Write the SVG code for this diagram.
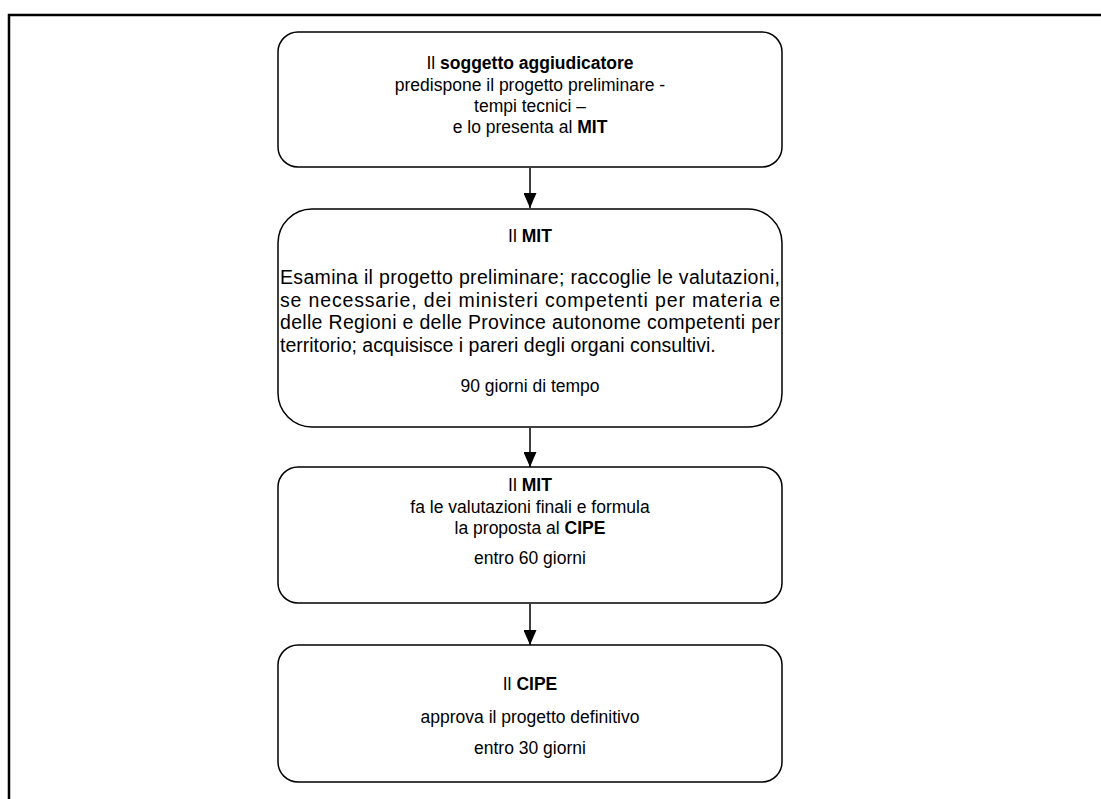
<svg xmlns="http://www.w3.org/2000/svg" width="1101" height="799" viewBox="0 0 1101 799">
<style>
text{font-family:"Liberation Sans",Arial,sans-serif;font-size:17.5px;fill:#000}
.c{text-anchor:middle}
.b{font-weight:bold}
.p{font-size:19.5px}
.box{fill:#fff;stroke:#000;stroke-width:1.5}
.conn{stroke:#000;stroke-width:1.5;fill:none}
</style>
<defs>
<marker id="ah" markerWidth="15" markerHeight="13" refX="15" refY="6.5" orient="auto" markerUnits="userSpaceOnUse" viewBox="0 0 15 13">
<path d="M0,0 L15,6.5 L0,13 Z" fill="#000"/>
</marker>
</defs>
<rect width="1101" height="799" fill="#fff"/>
<g id="frame"><path d="M9,799 L9,15 L1101,15" fill="none" stroke="#000" stroke-width="2.5"/></g>
<g id="connectors">
<line class="conn" x1="530" y1="168" x2="530" y2="208" marker-end="url(#ah)"/>
<line class="conn" x1="530" y1="428" x2="530" y2="467" marker-end="url(#ah)"/>
<line class="conn" x1="530" y1="604" x2="530" y2="645" marker-end="url(#ah)"/>
</g>
<g id="node1">
<rect class="box" x="278" y="32" width="504" height="135" rx="20" ry="20"/>
<text class="c" x="530" y="69">Il <tspan class="b">soggetto aggiudicatore</tspan></text>
<text class="c" x="530" y="91">predispone il progetto preliminare -</text>
<text class="c" x="530" y="112">tempi tecnici –</text>
<text class="c" x="530" y="133">e lo presenta al <tspan class="b">MIT</tspan></text>
</g>
<g id="node2">
<rect class="box" x="278" y="209" width="504" height="218" rx="34" ry="34"/>
<text class="c" x="530" y="242">Il <tspan class="b">MIT</tspan></text>
<text class="p" x="280" y="284" textLength="500" lengthAdjust="spacing">Esamina il progetto preliminare; raccoglie le valutazioni,</text>
<text class="p" x="280" y="307" textLength="500" lengthAdjust="spacing">se necessarie, dei ministeri competenti per materia e</text>
<text class="p" x="280" y="329" textLength="500" lengthAdjust="spacing">delle Regioni e delle Province autonome competenti per</text>
<text class="p" x="280" y="352">territorio; acquisisce i pareri degli organi consultivi.</text>
<text class="c" x="530" y="392">90 giorni di tempo</text>
</g>
<g id="node3">
<rect class="box" x="278" y="467" width="504" height="136" rx="20" ry="20"/>
<text class="c" x="530" y="491">Il <tspan class="b">MIT</tspan></text>
<text class="c" x="530" y="513">fa le valutazioni finali e formula</text>
<text class="c" x="530" y="534">la proposta al <tspan class="b">CIPE</tspan></text>
<text class="c" x="530" y="564">entro 60 giorni</text>
</g>
<g id="node4">
<rect class="box" x="278" y="645" width="504" height="137" rx="20" ry="20"/>
<text class="c" x="530" y="690">Il <tspan class="b">CIPE</tspan></text>
<text class="c" x="530" y="723">approva il progetto definitivo</text>
<text class="c" x="530" y="754">entro 30 giorni</text>
</g>
</svg>
